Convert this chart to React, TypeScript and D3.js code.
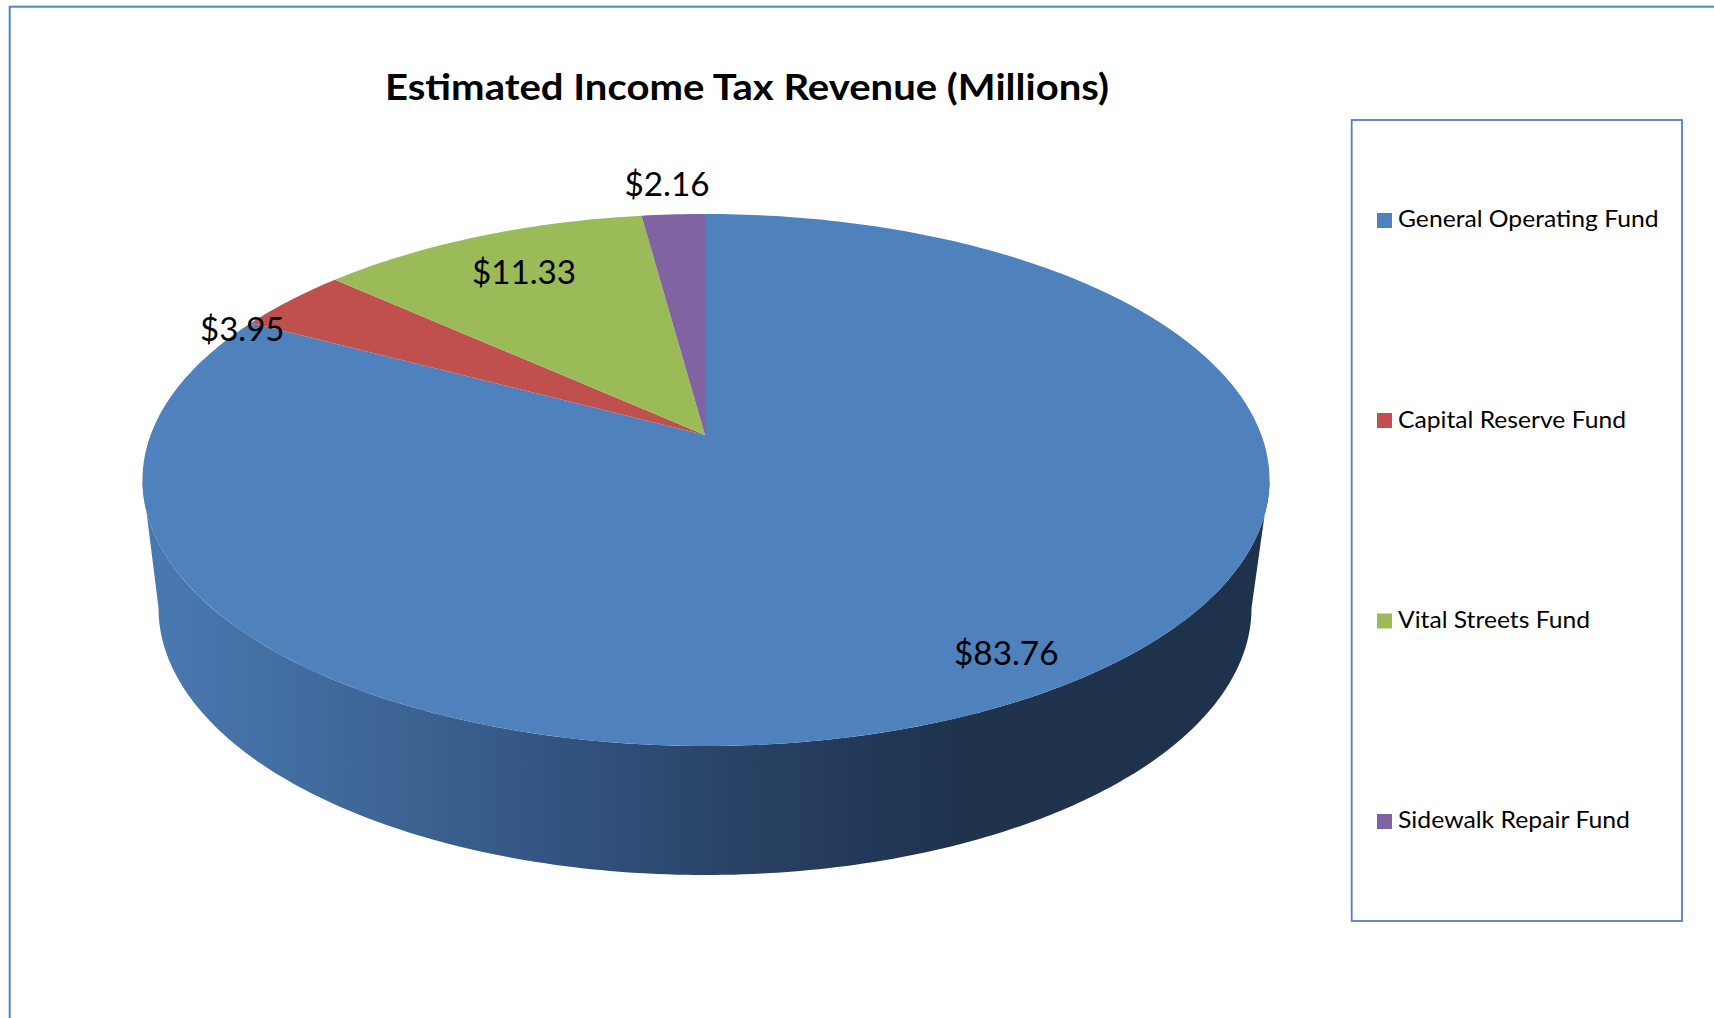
import React from "react";
import * as d3 from "d3";

const categories = ["General Operating Fund", "Capital Reserve Fund", "Vital Streets Fund", "Sidewalk Repair Fund"];
const values = [83.76, 3.95, 11.33, 2.16];
const valueLabels = ["$83.76", "$3.95", "$11.33", "$2.16"];
const colors = ["#4f81bd", "#c0504d", "#9bbb59", "#8064a2"];
const title = "Estimated Income Tax Revenue (Millions)";

// layout of the labels
const labelBoxes = [
  { x: 954, w: 104.5, y: 665 },
  { x: 200, w: 84.5, y: 340.5 },
  { x: 472, w: 104, y: 283.5 },
  { x: 624.5, w: 85, y: 196 },
];
const legendRows = [
  { sy: 213, ty: 226.7, w: 260.5 },
  { sy: 413, ty: 427.7, w: 228 },
  { sy: 613.5, ty: 628, w: 192 },
  { sy: 814, ty: 828.3, w: 232 },
];
const wallStops: [number, string][] = [
  [143, "#4a79b2"],
  [382, "#3e6595"],
  [546, "#335583"],
  [710, "#2a4568"],
  [852, "#23395a"],
  [960, "#1f334d"],
  [1268, "#1e324b"],
];

// Perspective projection of the unit disc of the pie onto the page
const apexX = 705;
const apexY = 435;
const topY = 214;
const botY = 746;
const rxLeft = 562.5;
const rxRight = 564.5;
const persp = (2 * apexY - topY - botY) / (botY - topY);
const aY = botY * (1 + persp) - apexY;
const squeeze = Math.sqrt(1 - persp * persp);
const project = (angle: number): [number, number] => {
  const u = Math.sin(angle);
  const v = -Math.cos(angle);
  const d = 1 + persp * v;
  const k = (u > 0 ? rxRight : rxLeft) * squeeze;
  return [apexX + (k * u) / d, (aY * v + apexY) / d];
};

const wallCx = 705;
const wallCy = 608;
const wallRx = 546.5;
const wallRy = 267;
const topCy = (topY + botY) / 2;

export default function App() {
  const arcs = d3.pie<number>().sort(null)(values);
  const line = d3.line();

  const slicePath = (start: number, end: number) => {
    const n = Math.max(2, Math.ceil((end - start) * 60));
    const pts = d3.range(n + 1).map((i) => project(d3.interpolateNumber(start, end)(i / n)));
    return line([[apexX, apexY], ...pts])! + "Z";
  };

  // side wall: lower half of the top rim + lower half of the base ellipse
  const sweep = d3.range(0, 181).map((d) => (d * Math.PI) / 180);
  const topRim = sweep.map((t): [number, number] => [
    apexX + (Math.cos(t) > 0 ? rxRight : rxLeft) * Math.cos(t),
    topCy + ((botY - topY) / 2) * Math.sin(t),
  ]);
  const baseRim = sweep
    .map((t): [number, number] => [wallCx + wallRx * Math.cos(t), wallCy + wallRy * Math.sin(t)])
    .reverse();
  const wallPath = line([...topRim, ...baseRim])! + "Z";

  const font = "Lato, 'Noto Sans', sans-serif";

  return (
    <svg
      width={1714}
      height={1018}
      viewBox="0 0 1714 1018"
      style={{ position: "fixed", left: 0, top: 0, background: "#fff" }}
    >
      <defs>
        <linearGradient id="wall" gradientUnits="userSpaceOnUse" x1={143} x2={1268} y1={0} y2={0}>
          {wallStops.map(([x, c]) => (
            <stop key={x} offset={(x - 143) / (1268 - 143)} stopColor={c} />
          ))}
        </linearGradient>
      </defs>
      <rect x={-0} y={0} width={1714} height={1018} fill="#fff" />
      <rect x={9.7} y={6.7} width={1760} height={1060} fill="none" stroke="#4f81c4" strokeWidth={2} />

      <text
        x={385}
        y={99.5}
        fontFamily={font}
        fontWeight={700}
        fontSize={37}
        textLength={724}
        lengthAdjust="spacingAndGlyphs"
        fill="#000"
      >
        {title}
      </text>

      <path d={wallPath} fill="url(#wall)" />
      {arcs.map((a, i) => (
        <path key={categories[i]} d={slicePath(a.startAngle, a.endAngle)} fill={colors[i]} />
      ))}

      {valueLabels.map((t, i) => (
        <text
          key={t}
          x={labelBoxes[i].x}
          y={labelBoxes[i].y}
          fontFamily={font}
          fontSize={33}
          textLength={labelBoxes[i].w}
          lengthAdjust="spacingAndGlyphs"
          fill="#000"
        >
          {t}
        </text>
      ))}

      <rect x={1351.7} y={120} width={330.3} height={801} fill="none" stroke="#4f81c4" strokeWidth={1.8} />
      {categories.map((c, i) => (
        <g key={c}>
          <rect x={1377} y={legendRows[i].sy} width={15} height={15} fill={colors[i]} />
          <text
            x={1398}
            y={legendRows[i].ty}
            fontFamily={font}
            fontSize={23.5}
            textLength={legendRows[i].w}
            lengthAdjust="spacingAndGlyphs"
            fill="#000"
          >
            {c}
          </text>
        </g>
      ))}
    </svg>
  );
}
